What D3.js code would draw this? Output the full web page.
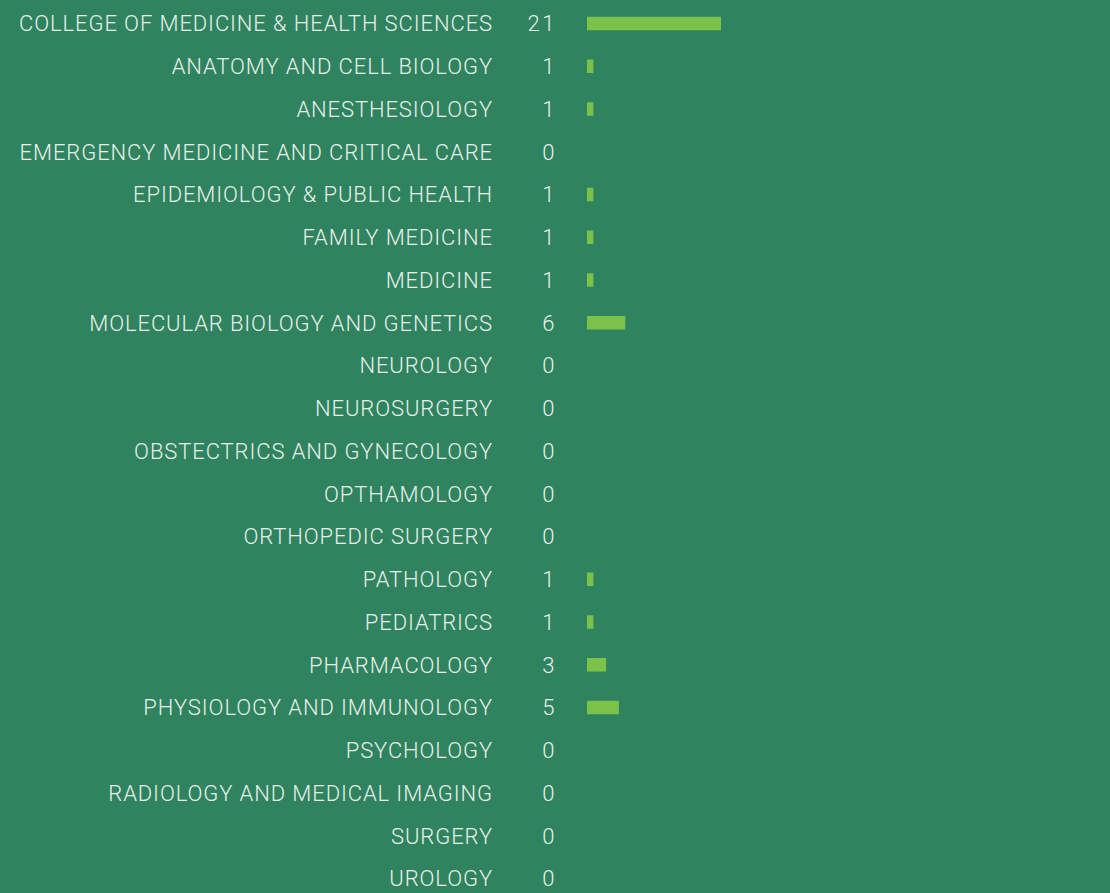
<!DOCTYPE html>
<html>
<head>
<meta charset="utf-8">
<script src="https://cdn.jsdelivr.net/npm/d3@7"></script>
<style>
  html, body { margin: 0; padding: 0; background: #2f835f; }
  svg { display: block; }
  text { font-family: Roboto, "Open Sans", sans-serif; font-weight: 300; fill: #e8f0eb; }
</style>
</head>
<body>
<svg id="chart" width="1110" height="893"></svg>
<script>
// Departments and their counts
const departments = [
  "COLLEGE OF MEDICINE & HEALTH SCIENCES",
  "ANATOMY AND CELL BIOLOGY",
  "ANESTHESIOLOGY",
  "EMERGENCY MEDICINE AND CRITICAL CARE",
  "EPIDEMIOLOGY & PUBLIC HEALTH",
  "FAMILY MEDICINE",
  "MEDICINE",
  "MOLECULAR BIOLOGY AND GENETICS",
  "NEUROLOGY",
  "NEUROSURGERY",
  "OBSTECTRICS AND GYNECOLOGY",
  "OPTHAMOLOGY",
  "ORTHOPEDIC SURGERY",
  "PATHOLOGY",
  "PEDIATRICS",
  "PHARMACOLOGY",
  "PHYSIOLOGY AND IMMUNOLOGY",
  "PSYCHOLOGY",
  "RADIOLOGY AND MEDICAL IMAGING",
  "SURGERY",
  "UROLOGY"
];
const counts = [21, 1, 1, 0, 1, 1, 1, 6, 0, 0, 0, 0, 0, 1, 1, 3, 5, 0, 0, 0, 0];

const svg = d3.select("#chart");

const labelRight = 493;
const valueRight = 557;
const barLeft = 587;
const barHeight = 13.5;

// Row centres: one per department
const y = d3.scalePoint()
  .domain(departments)
  .range([23.5, 878.5]);

// Bar length scale
const x = d3.scaleLinear()
  .domain([0, 21])
  .range([0, 134]);

const rows = svg.selectAll("g.row")
  .data(departments.map((d, i) => ({ name: d, value: counts[i] })))
  .join("g")
  .attr("class", "row")
  .attr("transform", d => `translate(0,${y(d.name)})`);

rows.append("text")
  .attr("x", labelRight)
  .attr("y", 0)
  .attr("dy", "0.355em")
  .attr("text-anchor", "end")
  .style("font-size", "22px")
  .style("letter-spacing", "0.9px")
  .text(d => d.name);

rows.append("text")
  .attr("x", valueRight)
  .attr("y", 0)
  .attr("dy", "0.355em")
  .attr("text-anchor", "end")
  .style("font-size", "22px")
  .style("letter-spacing", "2.5px")
  .text(d => d.value);

rows.filter(d => d.value > 0)
  .append("rect")
  .attr("x", barLeft)
  .attr("y", -barHeight / 2)
  .attr("width", d => x(d.value))
  .attr("height", barHeight)
  .attr("fill", "#7bc24a");
</script>
</body>
</html>
